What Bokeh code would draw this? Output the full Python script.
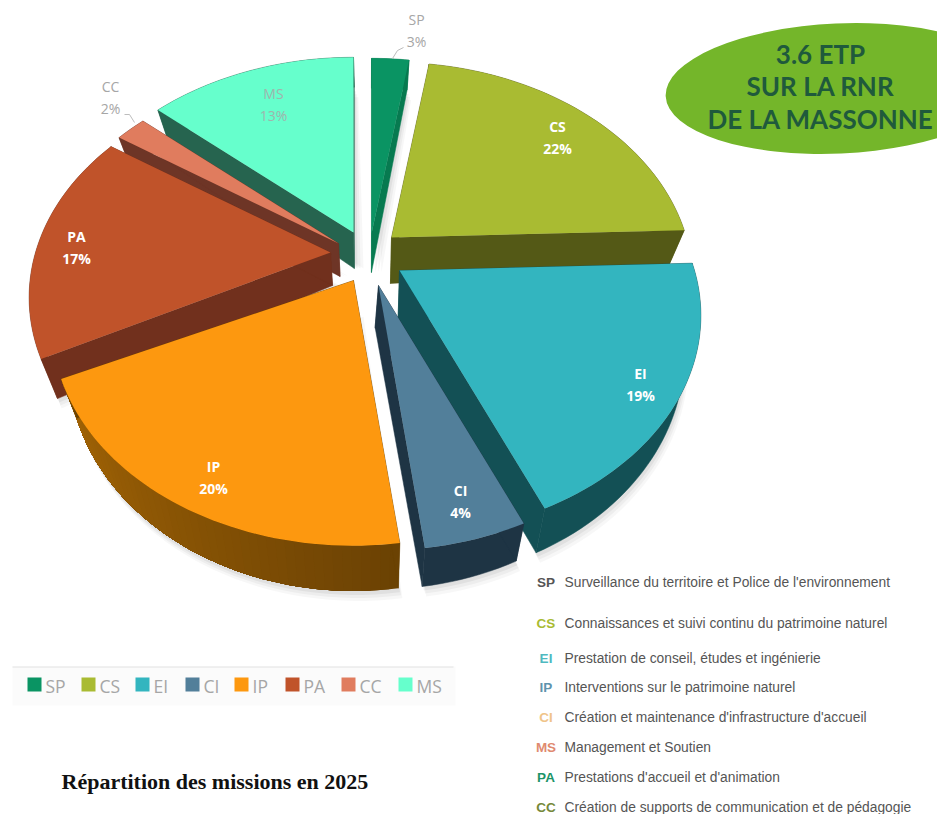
import math
from bokeh.plotting import figure
from bokeh.models import Range1d
from bokeh.core.properties import value
from bokeh.embed import file_html
from bokeh.resources import INLINE

# ---- data -------------------------------------------------------------
codes = ["SP", "CS", "EI", "CI", "IP", "PA", "CC", "MS"]
shares = [3, 22, 19, 4, 20, 17, 2, 13]
top_colors = ["#0a9463", "#a9bb32", "#33b5bf", "#527f9a", "#fd980f", "#c0532a", "#e07c5e", "#66ffcc"]
rim_colors = ["#077a50", "#545916", "#135055", "#1e3444", "#8a5505", "#71301d", "#6e3526", "#26644f"]
text_colors = ["#a6a6a6", "#ffffff", "#ffffff", "#ffffff", "#ffffff", "#ffffff", "#a6a6a6", "#9fb5ad"]
key_codes = ["SP", "CS", "EI", "IP", "CI", "MS", "PA", "CC"]
key_colors = ["#555555", "#a9bb32", "#4fb9c0", "#5f93ad", "#f0c48a", "#e08a70", "#1c9468", "#76893a"]
key_texts = [
    "Surveillance du territoire et Police de l'environnement",
    "Connaissances et suivi continu du patrimoine naturel",
    "Prestation de conseil, études et ingénierie",
    "Interventions sur le patrimoine naturel",
    "Création et maintenance d'infrastructure d'accueil",
    "Management et Soutien",
    "Prestations d'accueil et d'animation",
    "Création de supports de communication et de pédagogie",
]
title_text = "Répartition des missions en 2025"
badge_lines = ["3.6 ETP", "SUR LA RNR", "DE LA MASSONNE"]

# ---- layout (all in reference pixels) ---------------------------------
apex = {"SP": (371, 233), "CS": (391, 237), "EI": (399, 270), "CI": (378, 285),
        "IP": (353, 280), "PA": (330, 252), "CC": (338, 243), "MS": (353, 232)}
apex_depth = {"SP": 39, "CS": 46, "EI": 50, "CI": 42, "IP": 36, "PA": 33, "CC": 33, "MS": 36}
apex_dx = {"CI": -3}
rim_scale = {"CI": 0.85}
label_xy = {"SP": (416, 30), "CS": (557, 137), "EI": (640, 384), "CI": (460, 501),
            "IP": (213, 477), "PA": (76, 247), "CC": (110, 97), "MS": (273, 104)}
start_adj = {"IP": 2.0, "SP": 2.0}
end_adj = {"CI": 2.0, "IP": 2.0, "MS": 2.0}
draw_order = ["SP", "MS", "CS", "CC", "PA", "EI", "IP", "CI"]
RX, RY, PERSP, DEPTH, ROT, VX, KX = 295.0, 211.0, 0.2045, 36.0, -2.0, 370.0, 0.05

p = figure(width=937, height=814, output_backend="svg", toolbar_location=None,
           x_range=Range1d(0, 937), y_range=Range1d(814, 0), min_border=0,
           outline_line_color=None, background_fill_color="white")
p.xaxis.visible = False
p.yaxis.visible = False
p.xgrid.visible = False
p.ygrid.visible = False


def pt(code, deg, lower=False):
    a = math.radians(deg + ROT)
    X, Y = math.sin(a), math.cos(a)
    s = 1.0 / (1.0 + PERSP * Y)
    ax, ay = apex[code]
    x, y = ax + RX * X * s, ay - RY * Y * s
    if lower:
        x += KX * (VX - x)
        y += DEPTH * s * rim_scale.get(code, 1.0)
    return x, y


def shade(col, f):
    c = [int(col[i:i + 2], 16) for i in (1, 3, 5)]
    return "#%02x%02x%02x" % tuple(min(255, int(v * f)) for v in c)


# cumulative angles
spans, run = {}, 0
for c, v in zip(codes, shares):
    spans[c] = (run * 3.6 + start_adj.get(c, 0.0), (run + v) * 3.6 + end_adj.get(c, 0.0))
    run += v

# soft shadows
for c in draw_order:
    a0, a1 = spans[c]
    n = max(6, int((a1 - a0) / 2))
    angs = [a0 + (a1 - a0) * i / n for i in range(n + 1)]
    for off, al in ((10, 0.03), (7, 0.04), (4, 0.05)):
        low = [pt(c, t, True) for t in angs]
        xs = [apex[c][0] + off] + [q[0] + off * 0.4 for q in low]
        ys = [apex[c][1] + apex_depth[c]] + [q[1] + off for q in low]
        p.patch(xs, ys, fill_color="#000000", fill_alpha=al, line_color=None)

for c in draw_order:
    i = codes.index(c)
    a0, a1 = spans[c]
    n = max(8, int((a1 - a0) / 1.5))
    angs = [a0 + (a1 - a0) * k / n for k in range(n + 1)]
    top = [pt(c, t) for t in angs]
    low = [pt(c, t, True) for t in angs]
    ax, ay = apex[c]
    lax, lay = ax + KX * (VX - ax) + apex_dx.get(c, 0), ay + apex_depth[c]
    side = rim_colors[i] if c != "IP" else shade(rim_colors[i], 0.78)
    # rim band: one polygon, or for IP a fade painted from each step to the end
    if c == "IP":
        for k in range(n):
            col = shade(rim_colors[i], 0.78 + 0.42 * k / n)
            xs = [q[0] for q in top[k:]] + [q[0] for q in low[k:]][::-1]
            ys = [q[1] for q in top[k:]] + [q[1] for q in low[k:]][::-1]
            p.patch(xs, ys, fill_color=col, line_color=None)
    else:
        xs = [q[0] for q in top] + [q[0] for q in low][::-1]
        ys = [q[1] for q in top] + [q[1] for q in low][::-1]
        p.patch(xs, ys, fill_color=side, line_color=side, line_width=0.5)
    # radial sides
    for e, el in ((top[0], low[0]), (top[-1], low[-1])):
        p.patch([ax, e[0], el[0], lax], [ay, e[1], el[1], lay], fill_color=side,
                line_color=side, line_width=0.5)
    # top face
    p.patch([ax] + [q[0] for q in top], [ay] + [q[1] for q in top],
            fill_color=top_colors[i], line_color=None)

# leader lines
p.line([392, 397, 403], [58, 50, 47], line_color="#bdbdbd", line_width=1)
p.line([124, 129, 134], [114, 114, 122], line_color="#bdbdbd", line_width=1)

# wedge labels
for c, v, col in zip(codes, shares, text_colors):
    lx, ly = label_xy[c]
    st = "bold" if col == "#ffffff" else "normal"
    p.text([lx], [ly - 11], text=[c], text_color=col, text_font=value("Open Sans"),
           text_font_size="14px", text_font_style=st, text_align="center", text_baseline="middle")
    p.text([lx], [ly + 11], text=["%d%%" % v], text_color=col, text_font=value("Open Sans"),
           text_font_size="14px", text_font_style=st, text_align="center", text_baseline="middle")

# badge
p.ellipse([838], [88], width=346, height=130, angle=0.045, fill_color="#74b62a", line_color=None)
for yy, line in zip((53, 85, 118), badge_lines):
    p.text([820], [yy], text=[line], text_color="#1f5a3c", text_font=value("Lato"),
           text_font_size="26px", text_font_style="bold", text_align="center", text_baseline="middle")

# lower legend band
p.quad(left=[12], right=[455], top=[666], bottom=[705], fill_color="#fbfbfb", line_color=None)
p.line([12, 453], [666.5, 666.5], line_color="#e2e2e2", line_width=1)
sw_x = [27, 81, 135, 185, 234, 285, 341, 398]
for x, c, col in zip(sw_x, codes, top_colors):
    p.quad(left=[x], right=[x + 14], top=[677], bottom=[691], fill_color=col, line_color=None)
    p.text([x + 18], [685], text=[c], text_color="#a6a6a6", text_font=value("Open Sans"),
           text_font_size="17.5px", text_align="left", text_baseline="middle")

# right legend
key_y = [582, 623, 658, 687, 717, 747, 777, 807]
for yy, c, col, t in zip(key_y, key_codes, key_colors, key_texts):
    p.text([545.5], [yy], text=[c], text_color=col, text_font=value("Liberation Sans"),
           text_font_size="13.5px", text_font_style="bold", text_align="center", text_baseline="middle")
    p.text([564], [yy], text=[t], text_color="#555555", text_font=value("Liberation Sans"),
           text_font_size="13.8px", text_align="left", text_baseline="middle")

# title
p.text([61], [781], text=[title_text], text_color="#111111", text_font=value("Liberation Serif"),
       text_font_size="22px", text_font_style="bold", text_align="left", text_baseline="middle")

open("out.html", "w").write(file_html(p, INLINE))
